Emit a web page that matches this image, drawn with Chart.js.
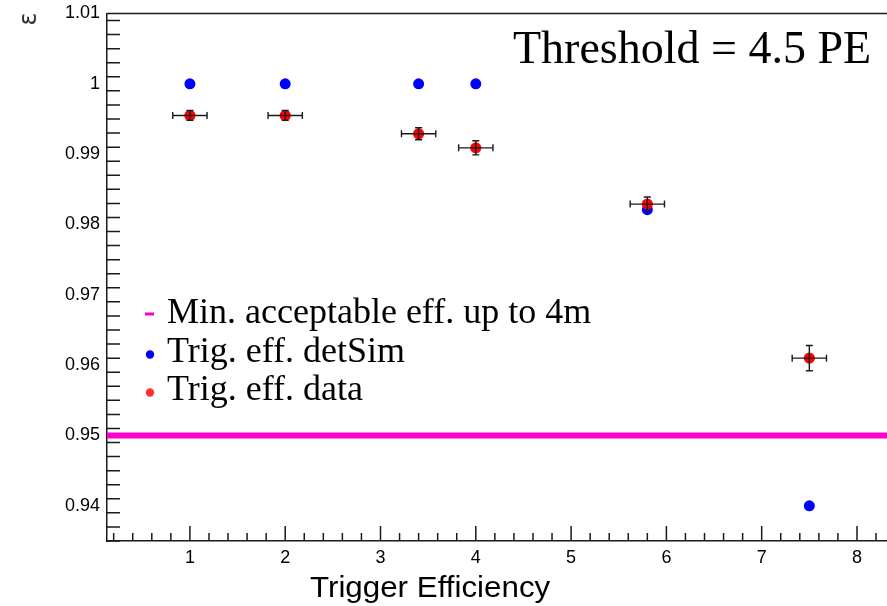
<!DOCTYPE html>
<html lang="en">
<head>
    <meta charset="UTF-8">
    <title>Trigger Efficiency</title>
    <style>
        body { margin: 0; background: #fff; }
    </style>
</head>
<body>
    <div style="width: 887px; height: 606px;">
        <canvas id="myChart" width="887" height="606"></canvas>
    </div>
    <script src="https://cdn.jsdelivr.net/npm/chart.js"></script>
    <script>
        // values
        const simX = [1, 2, 3.4, 4, 5.8, 7.5];
        const simY = [1.0, 1.0, 1.0, 1.0, 0.9821, 0.94];
        const dataX = [1, 2, 3.4, 4, 5.8, 7.5];
        const dataY = [0.9955, 0.9955, 0.9929, 0.9909, 0.9829, 0.9610];
        const dataXErr = [0.18, 0.18, 0.18, 0.18, 0.18, 0.18];
        const dataYErr = [0.0007, 0.0007, 0.00085, 0.001, 0.001, 0.0018];
        const minEff = 0.95;
        const xTicks = [1, 2, 3, 4, 5, 6, 7, 8];
        const yTicks = [0.94, 0.95, 0.96, 0.97, 0.98, 0.99, 1.0, 1.01];
        const xRange = [0.13, 8.315];
        const yRange = [0.935, 1.01];

        const legendItems = [
            {label: "Min. acceptable eff. up to 4m", color: "#ff00cc", type: "dash"},
            {label: "Trig. eff. detSim", color: "#0000ff", type: "dot"},
            {label: "Trig. eff. data", color: "#ff3333", type: "dot"}
        ];

        const lineColor = "#1a1a1a";

        // ROOT style ticks, error bars, texts
        const rootPlugin = {
            id: "rootStyle",
            afterDatasetsDraw(chart) {
                const ctx = chart.ctx;
                const xs = chart.scales.x, ys = chart.scales.y;
                ctx.save();
                ctx.strokeStyle = lineColor;
                ctx.lineWidth = 1.4;
                for (let i = 0; i < dataX.length; i++) {
                    let px = xs.getPixelForValue(dataX[i]);
                    let py = ys.getPixelForValue(dataY[i]);
                    let x1 = xs.getPixelForValue(dataX[i] - dataXErr[i]);
                    let x2 = xs.getPixelForValue(dataX[i] + dataXErr[i]);
                    let y1 = ys.getPixelForValue(dataY[i] - dataYErr[i]);
                    let y2 = ys.getPixelForValue(dataY[i] + dataYErr[i]);
                    ctx.beginPath();
                    ctx.moveTo(x1, py); ctx.lineTo(x2, py);
                    ctx.moveTo(x1, py - 3.5); ctx.lineTo(x1, py + 3.5);
                    ctx.moveTo(x2, py - 3.5); ctx.lineTo(x2, py + 3.5);
                    ctx.moveTo(px, y1); ctx.lineTo(px, y2);
                    ctx.moveTo(px - 3.5, y1); ctx.lineTo(px + 3.5, y1);
                    ctx.moveTo(px - 3.5, y2); ctx.lineTo(px + 3.5, y2);
                    ctx.stroke();
                }
                ctx.restore();
            },
            afterDraw(chart) {
                const ctx = chart.ctx;
                const area = chart.chartArea;
                const xs = chart.scales.x, ys = chart.scales.y;
                ctx.save();
                ctx.strokeStyle = lineColor;
                ctx.lineWidth = 1.5;
                ctx.beginPath();
                // top frame
                ctx.moveTo(area.left, area.top);
                ctx.lineTo(area.right, area.top);
                // y ticks (major 0.01, minor 0.002)
                for (let k = 0; k <= 40; k++) {
                    let v = yRange[0] + k * 0.002;
                    if (v > yRange[1] + 1e-9) break;
                    let py = ys.getPixelForValue(v);
                    let major = Math.abs(Math.round(v * 100) - v * 100) < 1e-6;
                    ctx.moveTo(area.left, py);
                    ctx.lineTo(area.left + (major ? 25 : 13), py);
                }
                // x ticks (major 1, minor 0.2)
                for (let k = 1; k <= 45; k++) {
                    let v = k * 0.2;
                    if (v > xRange[1]) break;
                    if (v < xRange[0]) continue;
                    let px = xs.getPixelForValue(v);
                    let major = k % 5 == 0;
                    ctx.moveTo(px, area.bottom);
                    ctx.lineTo(px, area.bottom - (major ? 15 : 8));
                }
                ctx.stroke();

                // axis titles
                ctx.fillStyle = "#000";
                ctx.save();
                ctx.translate(310, 597);
                ctx.scale(1.08, 1);
                ctx.font = "29px 'Liberation Sans', Arial, sans-serif";
                ctx.textAlign = "left";
                ctx.textBaseline = "alphabetic";
                ctx.fillText("Trigger Efficiency", 0, 0);
                ctx.restore();

                ctx.save();
                ctx.translate(30, 19);
                ctx.rotate(-Math.PI / 2);
                ctx.font = "24px 'DejaVu Sans', sans-serif";
                ctx.textAlign = "center";
                ctx.textBaseline = "middle";
                ctx.fillStyle = "#333";
                ctx.fillText("ε", 0, 0);
                ctx.restore();

                // threshold label
                ctx.font = "46px 'Liberation Serif', 'Times New Roman', serif";
                ctx.textAlign = "left";
                ctx.textBaseline = "alphabetic";
                ctx.fillText("Threshold = 4.5 PE", 513, 63);

                // legend
                ctx.font = "36px 'Liberation Serif', 'Times New Roman', serif";
                let baseY = [323, 362, 400];
                for (let i = 0; i < legendItems.length; i++) {
                    let it = legendItems[i];
                    ctx.fillStyle = it.color;
                    if (it.type == "dash") {
                        ctx.fillRect(145, baseY[i] - 10.5, 9, 3);
                    } else {
                        ctx.beginPath();
                        ctx.arc(150, baseY[i] - 7.5, 4.2, 0, Math.PI * 2);
                        ctx.fill();
                    }
                    ctx.fillStyle = "#000";
                    ctx.fillText(it.label, 167, baseY[i]);
                }
                ctx.restore();
            }
        };

        const ctx = document.getElementById('myChart');

        new Chart(ctx, {
            type: 'scatter',
            data: {
                datasets: [{
                    label: "Min. acceptable eff. up to 4m",
                    type: "line",
                    data: [{x: xRange[0], y: minEff}, {x: xRange[1], y: minEff}],
                    borderColor: "#ff00cc",
                    borderWidth: 6,
                    pointRadius: 0,
                    order: 3
                }, {
                    label: "Trig. eff. detSim",
                    data: simX.map((x, i) => ({x: x, y: simY[i]})),
                    backgroundColor: "#0000ff",
                    borderColor: "#0000ff",
                    borderWidth: 0,
                    pointRadius: 5.5,
                    order: 2
                }, {
                    label: "Trig. eff. data",
                    data: dataX.map((x, i) => ({x: x, y: dataY[i]})),
                    backgroundColor: "#ff0000",
                    borderColor: "#ff0000",
                    borderWidth: 0,
                    pointRadius: 5.6,
                    order: 1
                }]
            },
            options: {
                responsive: false,
                animation: false,
                events: [],
                layout: {
                    autoPadding: false,
                    padding: {left: 0, right: 0, top: 13.5, bottom: 0}
                },
                plugins: {
                    legend: {display: false},
                    tooltip: {enabled: false}
                },
                scales: {
                    x: {
                        type: 'linear',
                        min: xRange[0],
                        max: xRange[1],
                        grid: {display: false, drawTicks: false},
                        border: {display: true, color: lineColor, width: 1.5},
                        afterBuildTicks: (scale) => {
                            scale.ticks = xTicks.map(v => ({value: v}));
                        },
                        afterFit: (scale) => {
                            scale.height = 65;
                            scale.paddingLeft = 0;
                            scale.paddingRight = 0;
                        },
                        ticks: {
                            padding: 6,
                            color: "#000",
                            font: {family: "'Liberation Sans', Arial, sans-serif", size: 18},
                            callback: (v) => String(v)
                        }
                    },
                    y: {
                        type: 'linear',
                        min: yRange[0],
                        max: yRange[1],
                        grid: {display: false, drawTicks: false},
                        border: {display: true, color: lineColor, width: 1.5},
                        afterBuildTicks: (scale) => {
                            scale.ticks = yTicks.map(v => ({value: v}));
                        },
                        afterFit: (scale) => {
                            scale.width = 107;
                            scale.paddingTop = 0;
                            scale.paddingBottom = 0;
                        },
                        ticks: {
                            padding: 7,
                            color: "#000",
                            font: {family: "'Liberation Sans', Arial, sans-serif", size: 18},
                            callback: (v) => String(parseFloat(Number(v).toFixed(3)))
                        }
                    }
                }
            },
            plugins: [rootPlugin]
        });
    </script>
</body>
</html>
